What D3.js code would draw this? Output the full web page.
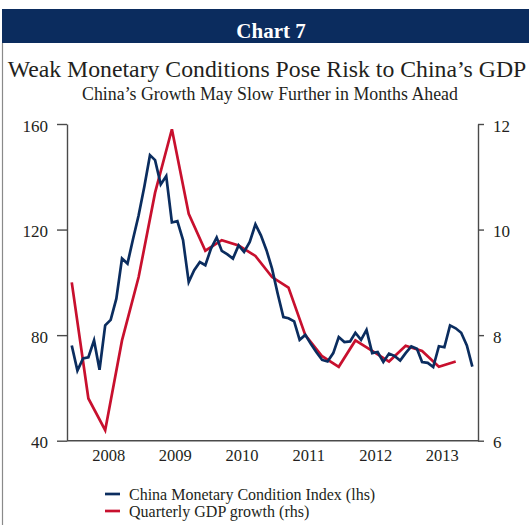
<!DOCTYPE html>
<html>
<head>
<meta charset="utf-8">
<script src="https://cdn.jsdelivr.net/npm/d3@7"></script>
<style>
  html, body { margin: 0; padding: 0; background: #fff; }
  svg { display: block; }
  text { font-family: "Liberation Serif", "DejaVu Serif", serif; fill: #231f20; }
</style>
</head>
<body>
<svg id="chart" width="529" height="525"></svg>
<script>
// China Monetary Condition Index, monthly (left axis)
const mciValues = [
  76.1, 66.6, 71.2, 71.6, 78.0, 66.9, 83.7, 85.8, 93.8, 109.0, 107.1, 116.6,
  125.4, 136.2, 148.2, 146.3, 137.1, 140.3, 122.7, 123.2, 116.0, 100.1, 104.6, 107.7,
  106.5, 112.8, 117.0, 111.9, 110.6, 109.0, 114.0, 111.5, 115.3, 122.0, 117.8, 112.1,
  105.2, 95.7, 86.8, 86.4, 85.2, 78.2, 80.1, 76.7, 73.5, 70.6, 70.0, 73.2,
  79.3, 77.4, 77.6, 80.9, 78.2, 82.0, 73.2, 73.6, 69.8, 73.0, 72.1, 70.4,
  73.2, 75.7, 74.8, 69.8, 69.5, 67.9, 75.8, 75.4, 83.7, 82.6, 80.9, 76.1, 68.1
];
// Quarterly GDP growth, % (right axis)
const gdpValues = [
  9.0, 6.8, 6.2, 7.9, 9.1, 10.7, 11.9, 10.3, 9.6, 9.8, 9.7, 9.5,
  9.1, 8.9, 8.0, 7.6, 7.4, 7.9, 7.7, 7.5, 7.8, 7.7, 7.4, 7.5
];
const yearLabels = [2008, 2009, 2010, 2011, 2012, 2013];
const leftTicks = [40, 80, 120, 160];
const rightTicks = [6, 8, 10, 12];
const seriesNames = ["China Monetary Condition Index (lhs)", "Quarterly GDP growth (rhs)"];

const firstMonth = new Date(2007, 11, 1);
const mciDates = mciValues.map((_, i) => d3.timeMonth.offset(firstMonth, i));
const gdpDates = gdpValues.map((_, i) => d3.timeMonth.offset(firstMonth, 3 * i));

const BLUE = "#0b2d5f";
const RED = "#c8102e";
const AXIS = "#4a4a4a";

const svg = d3.select("#chart");

// Header band
svg.append("rect").attr("x", 2).attr("y", 9).attr("width", 527).attr("height", 34).attr("fill", "#0b2c5e");
svg.append("text").attr("x", 271).attr("y", 38).attr("text-anchor", "middle")
  .style("font-weight", "bold").style("font-size", "21px").style("fill", "#fff").text("Chart 7");

// Frame
svg.append("line").attr("x1", 2.5).attr("x2", 2.5).attr("y1", 43).attr("y2", 525)
  .attr("stroke", "#8a8a8a").attr("stroke-width", 1.2);

function fitText(sel, width) {
  const w = sel.node().getComputedTextLength();
  const fs = parseFloat(sel.style("font-size"));
  sel.style("font-size", (fs * width / w) + "px");
}

const title = svg.append("text").attr("x", 267).attr("y", 77).attr("text-anchor", "middle")
  .style("font-size", "25px").text("Weak Monetary Conditions Pose Risk to China\u2019s GDP");
fitText(title, 519);
const subtitle = svg.append("text").attr("x", 270).attr("y", 100).attr("text-anchor", "middle")
  .style("font-size", "17px").text("China\u2019s Growth May Slow Further in Months Ahead");
fitText(subtitle, 376);

// Scales
const x = d3.scaleTime().domain([new Date(2007, 10, 5), new Date(2014, 0, 1)]).range([67, 478]);
const yL = d3.scaleLinear().domain([40, 160]).range([440.7, 124]);
const yR = d3.scaleLinear().domain([6, 12]).range([440.7, 124]);

// Axes
const gL = svg.append("g").attr("transform", "translate(67,0)")
  .call(d3.axisLeft(yL).tickValues(leftTicks).tickFormat(d3.format("d"))
    .tickSize(10).tickSizeOuter(0).tickPadding(9));
const gR = svg.append("g").attr("transform", "translate(478,0)")
  .call(d3.axisRight(yR).tickValues(rightTicks).tickFormat(d3.format("d"))
    .tickSize(6).tickSizeOuter(0).tickPadding(9));
[gL, gR].forEach(g => {
  g.selectAll("path, line").attr("stroke", AXIS).attr("stroke-width", 1.4);
  g.selectAll("text").style("font-size", "17px").style("font-family", "Liberation Serif, serif")
    .attr("fill", "#231f20").attr("dy", "0.42em");
});

svg.append("line").attr("x1", 67).attr("x2", 478).attr("y1", yL(40)).attr("y2", yL(40))
  .attr("stroke", AXIS).attr("stroke-width", 1.4);

svg.append("g").selectAll("text").data(yearLabels).join("text")
  .attr("x", d => x(new Date(d, 5, 20)))
  .attr("y", 461)
  .attr("text-anchor", "middle")
  .style("font-size", "16.5px")
  .text(d => d);

// Series
const lineL = d3.line().x((d, i) => x(mciDates[i])).y(d => yL(d));
const lineR = d3.line().x((d, i) => x(gdpDates[i])).y(d => yR(d));

svg.append("path").datum(gdpValues).attr("d", lineR)
  .attr("fill", "none").attr("stroke", RED).attr("stroke-width", 2.7);
svg.append("path").datum(mciValues).attr("d", lineL)
  .attr("fill", "none").attr("stroke", BLUE).attr("stroke-width", 2.7);

// Legend
const legend = svg.append("g");
[BLUE, RED].forEach((c, i) => {
  const yy = 494 + i * 17;
  legend.append("line").attr("x1", 105).attr("x2", 120).attr("y1", yy).attr("y2", yy)
    .attr("stroke", c).attr("stroke-width", 2.7);
  legend.append("text").attr("x", 129).attr("y", yy + 5.5)
    .style("font-size", "16px").text(seriesNames[i]);
});
</script>
</body>
</html>
